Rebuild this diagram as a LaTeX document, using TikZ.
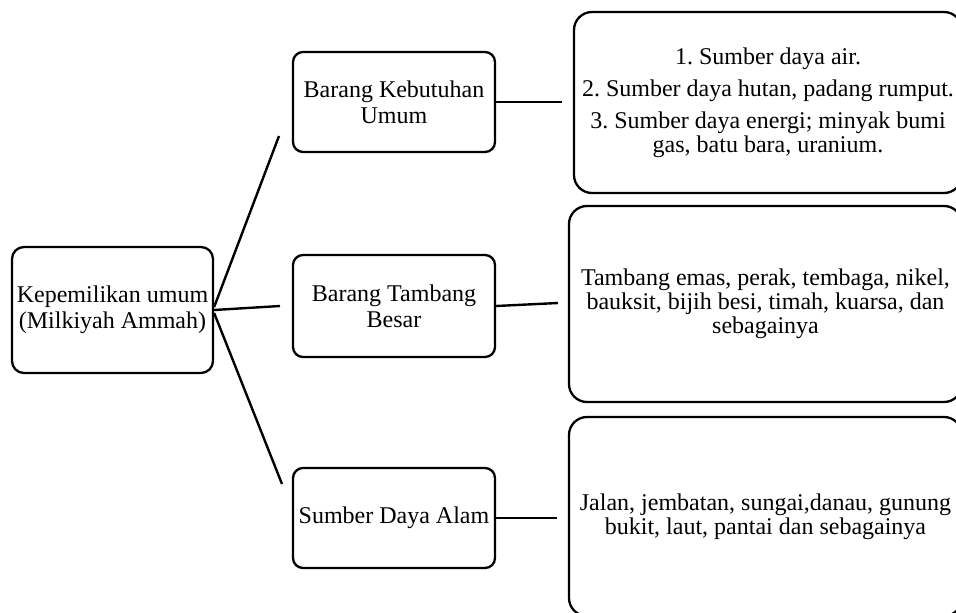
\documentclass[tikz,border=0pt]{standalone}
\usepackage{fontspec}
\setmainfont{Liberation Serif}
\frenchspacing
\begin{document}
\begin{tikzpicture}[x=1pt,y=-1pt,
  box/.style={draw=black, line width=2.3pt, rounded corners=#1, inner sep=0pt, align=center},
  box/.default=10pt,
  conn/.style={draw=black, line width=2.4pt},
  txt/.style={font=\fontsize{24}{#1}\selectfont\frenchspacing},
  txt/.default=23pt]
\fill[white] (0,0) rectangle (956,613);
\useasboundingbox (0,0) rectangle (956,613);
\clip (0,0) rectangle (956,613);

% left node
\node[box=12pt, txt=26pt, minimum width=201pt, minimum height=126pt] (L) at (112.5,310)
  {Kepemilikan umum\\(Milkiyah Ammah)};

% middle nodes
\node[box=10pt, txt=26pt, minimum width=202pt, minimum height=100pt] (M1) at (394,102)
  {Barang Kebutuhan\\Umum};
\node[box=10pt, txt=26pt, minimum width=202pt, minimum height=102pt] (M2) at (394,306)
  {Barang Tambang\\Besar};
\node[box=10pt, txt=26pt, minimum width=202pt, minimum height=100pt] (M3) at (394,518)
  {Sumber Daya Alam};

% right nodes
\node[box=18pt, txt=24pt, minimum width=388pt, minimum height=181pt] (R1) at (768,102.5)
  {1. Sumber daya air.\\[8pt]2. Sumber daya hutan, padang rumput.\\[8pt]3. Sumber daya energi; minyak bumi\\gas, batu bara, uranium.};
\node[box=18pt, txt=24pt, minimum width=393pt, minimum height=196pt] (R2) at (765.5,304)
  {Tambang emas, perak, tembaga, nikel,\\bauksit, bijih besi, timah, kuarsa, dan\\sebagainya};
\node[box=18pt, txt=24pt, minimum width=393pt, minimum height=199pt] (R3) at (765.5,516.5)
  {Jalan, jembatan, sungai,danau, gunung\\bukit, laut, pantai dan sebagainya};

% free ends of connectors
\coordinate (t1) at (279,136);
\coordinate (t2) at (280,306);
\coordinate (t3) at (282,484);
\coordinate (r1) at (562,102);
\coordinate (r2) at (558,303);
\coordinate (r3) at (557,518);

\draw[conn] ([yshift=3pt]L.east) -- (t1);
\draw[conn] (L.east) -- (t2);
\draw[conn] ([yshift=-3pt]L.east) -- (t3);
\draw[conn] (M1.east) -- (r1);
\draw[conn] (M2.east) -- (r2);
\draw[conn] (M3.east) -- (r3);
\end{tikzpicture}
\end{document}
